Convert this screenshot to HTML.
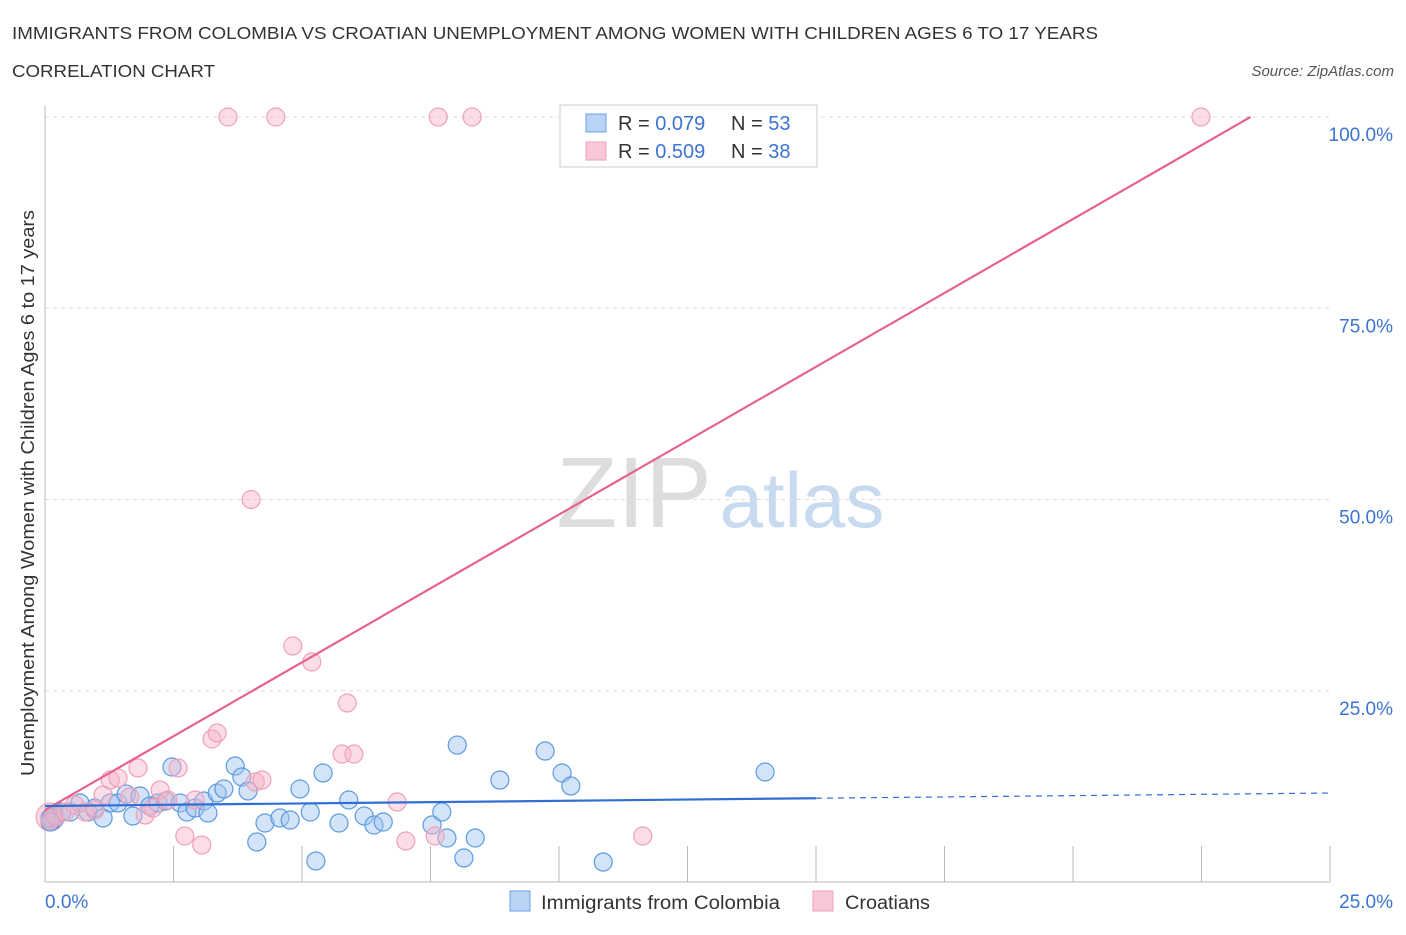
<!DOCTYPE html>
<html><head><meta charset="utf-8"><style>
body{margin:0;background:#fff;font-family:"Liberation Sans",sans-serif;}
svg text{font-family:"Liberation Sans",sans-serif;}
</style></head><body>
<svg id="chart" width="1406" height="930" xmlns="http://www.w3.org/2000/svg">
<text x="12" y="39" font-size="17.5" fill="#333" textLength="1086" lengthAdjust="spacingAndGlyphs">IMMIGRANTS FROM COLOMBIA VS CROATIAN UNEMPLOYMENT AMONG WOMEN WITH CHILDREN AGES 6 TO 17 YEARS</text>
<text x="12" y="77" font-size="17.5" fill="#333" textLength="203" lengthAdjust="spacingAndGlyphs">CORRELATION CHART</text>
<text x="1394" y="76" font-size="15" fill="#555" font-style="italic" text-anchor="end">Source: ZipAtlas.com</text>
<text x="634" y="527" font-size="100" fill="#ddd" font-family="Liberation Serif" text-anchor="middle">ZIP</text>
<text x="802" y="527" font-size="78" fill="#c8daf0" text-anchor="middle">atlas</text>
<g id="grid"></g>
<g id="axes"></g>
<g id="pts"></g>
<g id="lines"></g>
<text transform="translate(34,493) rotate(-90)" font-size="18" fill="#333" text-anchor="middle" textLength="566" lengthAdjust="spacingAndGlyphs">Unemployment Among Women with Children Ages 6 to 17 years</text>
<text x="45" y="908" font-size="19" fill="#3b74d1">0.0%</text>
<text x="1393" y="908" font-size="19" fill="#3b74d1" text-anchor="end">25.0%</text>
<g>
<rect x="560" y="105" width="257" height="62" fill="#fff" stroke="#ccc"/>
<rect x="586" y="114" width="20" height="18" fill="#b8d3f5" stroke="#6aa0e0"/>
<text x="618" y="130" font-size="20" fill="#333">R = <tspan fill="#3b74d1">0.079</tspan></text>
<text x="731" y="130" font-size="20" fill="#333">N = <tspan fill="#3b74d1">53</tspan></text>
<rect x="586" y="142" width="20" height="18" fill="#f8c8d6" stroke="#f0a0b8"/>
<text x="618" y="158" font-size="20" fill="#333">R = <tspan fill="#3b74d1">0.509</tspan></text>
<text x="731" y="158" font-size="20" fill="#333">N = <tspan fill="#3b74d1">38</tspan></text>
</g>
<g>
<rect x="510" y="891" width="20" height="20" fill="#b8d3f5" stroke="#6aa0e0"/>
<text x="541" y="909" font-size="19" fill="#333" textLength="239" lengthAdjust="spacingAndGlyphs">Immigrants from Colombia</text></g>
<g>
<rect x="813" y="891" width="20" height="20" fill="#f8c8d6" stroke="#f0a0b8"/>
<text x="845" y="909" font-size="19" fill="#333" textLength="85" lengthAdjust="spacingAndGlyphs">Croatians</text></g>
</svg>
<script>
const yTicks=[25,50,75,100];
const yTickLabels=["25.0%","50.0%","75.0%","100.0%"];
const xTicks=[0,2.5,5,7.5,10,12.5,15,17.5,20,22.5,25];
const blueX=[0.10,0.19,0.33,0.49,0.68,0.84,0.97,1.13,1.27,1.42,1.58,1.71,1.85,2.04,2.20,2.35,2.47,2.63,2.76,2.92,3.09,3.17,3.35,3.48,3.70,3.83,3.95,4.12,4.28,4.57,4.77,4.96,5.16,5.27,5.41,5.72,5.91,6.21,6.40,6.58,7.53,7.72,7.82,8.02,8.15,8.37,8.85,9.73,10.06,10.23,10.86,14.01,0.10];
const blueY=[8.37,8.76,9.15,9.15,10.33,9.15,9.67,8.37,10.33,10.33,11.5,8.63,11.24,9.93,10.33,10.59,15.03,10.33,9.15,9.67,10.59,9.02,11.63,12.16,15.16,13.73,11.9,5.23,7.71,8.37,8.1,12.16,9.15,2.75,14.25,7.71,10.72,8.63,7.45,7.84,7.45,9.15,5.75,17.9,3.14,5.75,13.33,17.12,14.25,12.55,2.61,14.38,7.84];
const pinkX=[0.10,0.19,0.39,0.58,0.78,0.97,1.13,1.27,1.42,1.65,1.81,1.95,2.10,2.24,2.39,2.59,2.72,2.92,3.05,3.25,3.35,3.56,4.01,4.09,4.22,4.49,4.82,5.19,5.88,5.78,6.01,6.85,7.02,7.59,7.65,8.31,11.63,22.49];
const pinkY=[8.1,8.63,9.15,10.07,9.15,9.41,11.37,13.33,13.6,11.11,14.9,8.76,9.67,12.03,10.72,14.9,6.01,10.72,4.84,18.69,19.48,100,50,13.07,13.33,100,30.85,28.76,23.4,16.73,16.73,10.46,5.36,6.01,100,100,6.01,100];
const pinkTrend=[9.4,3.863];
const blueTrend=[9.93,0.068];
const X0=45,X1=1330,Y0=882,Y1=117;
const sx=v=>X0+(X1-X0)*v/25, sy=v=>Y0-(Y0-Y1)*v/100;
const NS="http://www.w3.org/2000/svg";
function mk(tag,attrs,parent){const e=document.createElementNS(NS,tag);for(const k in attrs)e.setAttribute(k,attrs[k]);document.getElementById(parent).appendChild(e);return e;}
yTicks.forEach((t,i)=>{
 const l=mk('line',{x1:X0,x2:1330,y1:sy(t),y2:sy(t),stroke:'#ddd','stroke-dasharray':'4,4'},'grid');
 
 
 const tx=mk('text',{x:1393,y:sy(t)+24,'font-size':19,fill:'#3b74d1','text-anchor':'end'},'grid');
 tx.textContent=yTickLabels[i];
 
 
});
const ax=mk('line',{x1:X0,x2:X0,y1:105,y2:Y0,stroke:'#bbb'},'axes');


const bx=mk('line',{x1:X0,x2:X1,y1:Y0,y2:Y0,stroke:'#bbb'},'axes');


xTicks.forEach(t=>{
 const l=mk('line',{x1:sx(t),x2:sx(t),y1:Y0,y2:t===0?Y0:Y0-36,stroke:'#bbb'},'axes');
 
 
});
mk('circle',{cx:sx(0.1),cy:sy(8.5),r:14,fill:'rgba(245,175,200,0.5)',stroke:'#f0a0b8'},'pts');
mk('circle',{cx:sx(0.15),cy:sy(8.3),r:11,fill:'rgba(150,160,210,0.55)',stroke:'#8a90d0'},'pts');
blueX.forEach((x,i)=>{
 const c=mk('circle',{cx:sx(x),cy:sy(blueY[i]),r:9,fill:'rgba(160,196,240,0.45)',stroke:'#5b9be0','stroke-width':1.2},'pts');
 
 
});
pinkX.forEach((x,i)=>{
 const c=mk('circle',{cx:sx(x),cy:sy(pinkY[i]),r:9,fill:'rgba(245,180,200,0.45)',stroke:'#f0a0b8','stroke-width':1.2},'pts');
 
 
});
const pxEnd=(100-pinkTrend[0])/pinkTrend[1];
const pl=mk('line',{x1:sx(0),y1:sy(pinkTrend[0]),x2:sx(pxEnd),y2:sy(100),stroke:'#e8628e','stroke-width':2.2},'lines');


const bl=mk('line',{x1:sx(0),y1:sy(blueTrend[0]),x2:sx(15),y2:sy(blueTrend[0]+15*blueTrend[1]),stroke:'#2f6fd6','stroke-width':2.2},'lines');


const bd=mk('line',{x1:sx(15),y1:sy(blueTrend[0]+15*blueTrend[1]),x2:sx(25),y2:sy(blueTrend[0]+25*blueTrend[1]),stroke:'#2f6fd6','stroke-width':1.2,'stroke-dasharray':'6,5'},'lines');


</script>
</body></html>
